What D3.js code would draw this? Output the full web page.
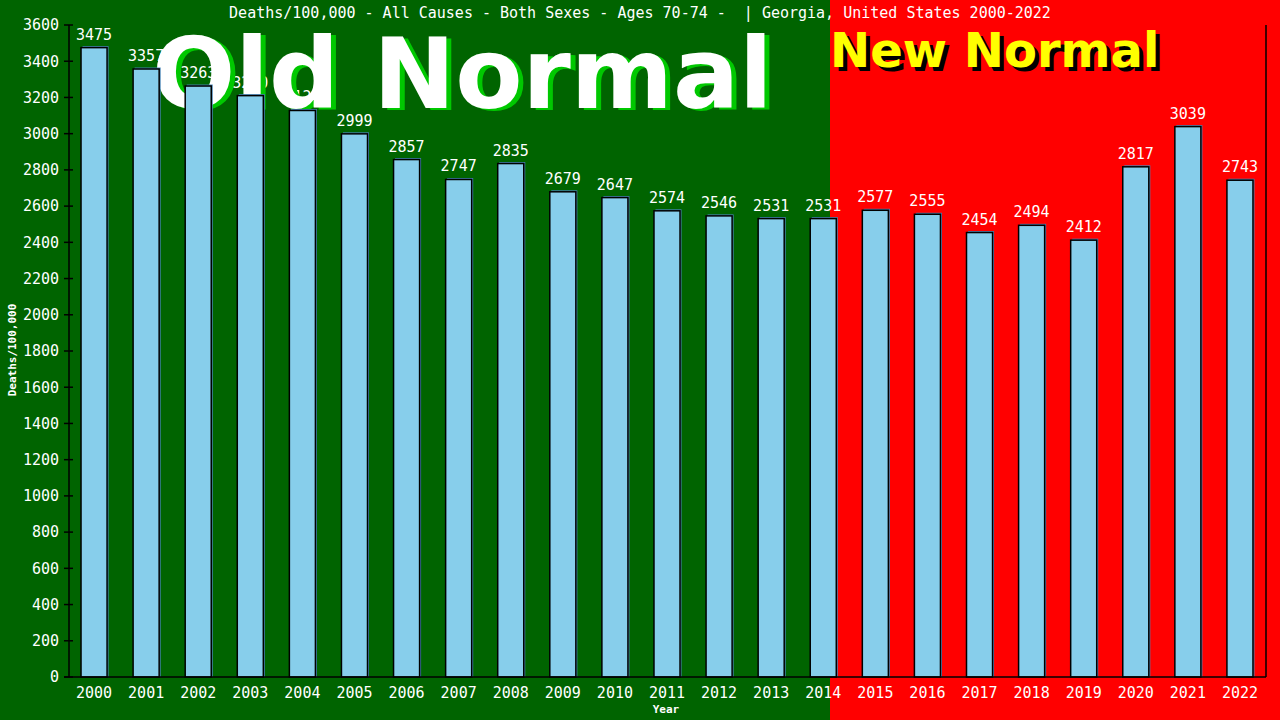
<!DOCTYPE html>
<html>
<head>
<meta charset="utf-8">
<script src="https://cdn.jsdelivr.net/npm/d3@7"></script>
<style>
	body { margin: 0; background: #fff; }
	svg { display: block; }
	.mono { font-family: 'DejaVu Sans Mono', 'Liberation Mono', monospace; fill: #fff; }
	.big { font-family: 'DejaVu Sans', sans-serif; font-weight: bold; }
</style>
</head>
<body>
<div id="vis"></div>
<script>

var years = ['2000', '2001', '2002', '2003', '2004', '2005', '2006', '2007', '2008', '2009', '2010', '2011',
	'2012', '2013', '2014', '2015', '2016', '2017', '2018', '2019', '2020', '2021', '2022'];
var deaths = [3475, 3357, 3263, 3210, 3128, 2999, 2857, 2747, 2835, 2679, 2647, 2574,
	2546, 2531, 2531, 2577, 2555, 2454, 2494, 2412, 2817, 3039, 2743];
var yTicks = [0, 200, 400, 600, 800, 1000, 1200, 1400, 1600, 1800, 2000, 2200, 2400, 2600, 2800, 3000, 3200, 3400, 3600];

var title = 'Deaths/100,000 - All Causes - Both Sexes - Ages 70-74 -  | Georgia, United States 2000-2022';

var dim = { w: 1280, h: 720 };
var plot = { left: 68, right: 1266, top: 25, bottom: 677 };
var split = 830;

var svg = d3.select('#vis').append('svg')
	.attr('width', dim.w)
	.attr('height', dim.h);

// backgrounds
svg.append('rect')
	.attr('x', 0).attr('y', 0)
	.attr('width', split).attr('height', dim.h)
	.attr('fill', '#006400');
svg.append('rect')
	.attr('x', split).attr('y', 0)
	.attr('width', dim.w - split).attr('height', dim.h)
	.attr('fill', '#ff0000');

var x = d3.scaleBand()
	.domain(years)
	.range([plot.left, plot.right])
	.paddingInner(0.5)
	.paddingOuter(0.25);

var y = d3.scaleLinear()
	.domain([0, 3600])
	.range([plot.bottom, plot.top]);

// value labels (drawn under the big words, like the original)
years.forEach(function (yr, i) {
	svg.append('text')
		.attr('x', x(yr) + x.bandwidth() / 2)
		.attr('y', y(deaths[i]) - 8)
		.attr('text-anchor', 'middle')
		.attr('class', 'mono')
		.attr('font-size', 15)
		.text(deaths[i]);
});

// big labels
svg.append('text')
	.attr('x', 157).attr('y', 110)
	.attr('class', 'big')
	.attr('font-size', 98)
	.attr('fill', '#00c800')
	.text('Old Normal');
svg.append('text')
	.attr('x', 152).attr('y', 108)
	.attr('class', 'big')
	.attr('font-size', 98)
	.attr('fill', '#ffffff')
	.text('Old Normal');
svg.append('text')
	.attr('x', 834).attr('y', 71)
	.attr('class', 'big')
	.attr('font-size', 48)
	.attr('fill', '#000')
	.text('New Normal');
svg.append('text')
	.attr('x', 830).attr('y', 67)
	.attr('class', 'big')
	.attr('font-size', 48)
	.attr('fill', '#ffff00')
	.text('New Normal');

// bars
var bars = svg.append('g');
years.forEach(function (yr, i) {
	var v = deaths[i];
	bars.append('rect')
		.attr('x', x(yr) + 1.5)
		.attr('y', y(v) - 1.5)
		.attr('width', x.bandwidth())
		.attr('height', plot.bottom - y(v) + 1.5)
		.attr('fill', '#4682b4');
	bars.append('rect')
		.attr('x', x(yr))
		.attr('y', y(v))
		.attr('width', x.bandwidth())
		.attr('height', plot.bottom - y(v))
		.attr('fill', '#87ceeb')
		.attr('stroke', '#000')
		.attr('stroke-width', 1.5);
});

// axes
var yAxis = d3.axisLeft(y).tickValues(yTicks).tickFormat(d3.format('d')).tickSize(0).tickPadding(10);
var gy = svg.append('g')
	.attr('transform', 'translate(' + (plot.left + 1) + ',0)')
	.call(yAxis);
gy.select('.domain').remove();
gy.selectAll('text')
	.attr('class', 'mono')
	.attr('font-size', 15)
	.attr('fill', '#fff');

// tick marks crossing the axis
yTicks.forEach(function (t) {
	svg.append('line')
		.attr('x1', plot.left - 4).attr('x2', plot.left + 5)
		.attr('y1', y(t)).attr('y2', y(t))
		.attr('stroke', '#000').attr('stroke-width', 1.5);
});

var xAxis = d3.axisBottom(x).tickSize(0).tickPadding(10);
var gx = svg.append('g')
	.attr('transform', 'translate(0,' + plot.bottom + ')')
	.call(xAxis);
gx.select('.domain').remove();
gx.selectAll('text')
	.attr('class', 'mono')
	.attr('font-size', 15)
	.attr('fill', '#fff');

// frame lines
svg.append('line')
	.attr('x1', plot.left + 1).attr('x2', plot.left + 1)
	.attr('y1', plot.top).attr('y2', plot.bottom)
	.attr('stroke', '#000').attr('stroke-width', 1.5);
svg.append('line')
	.attr('x1', plot.right).attr('x2', plot.right)
	.attr('y1', plot.top).attr('y2', plot.bottom)
	.attr('stroke', '#000').attr('stroke-width', 1.5);
svg.append('line')
	.attr('x1', plot.left - 4).attr('x2', plot.right)
	.attr('y1', plot.bottom).attr('y2', plot.bottom)
	.attr('stroke', '#000').attr('stroke-width', 1.5);

// title and axis labels
svg.append('text')
	.attr('x', 640).attr('y', 18)
	.attr('text-anchor', 'middle')
	.attr('class', 'mono')
	.attr('font-size', 15)
	.attr('xml:space', 'preserve')
	.style('white-space', 'pre')
	.text(title);
svg.append('text')
	.attr('transform', 'translate(16,350) rotate(-90)')
	.attr('text-anchor', 'middle')
	.attr('class', 'mono')
	.attr('font-weight', 'bold')
	.attr('font-size', 11)
	.text('Deaths/100,000');
svg.append('text')
	.attr('x', 666).attr('y', 713)
	.attr('text-anchor', 'middle')
	.attr('class', 'mono')
	.attr('font-weight', 'bold')
	.attr('font-size', 11)
	.text('Year');

</script>
</body>
</html>
